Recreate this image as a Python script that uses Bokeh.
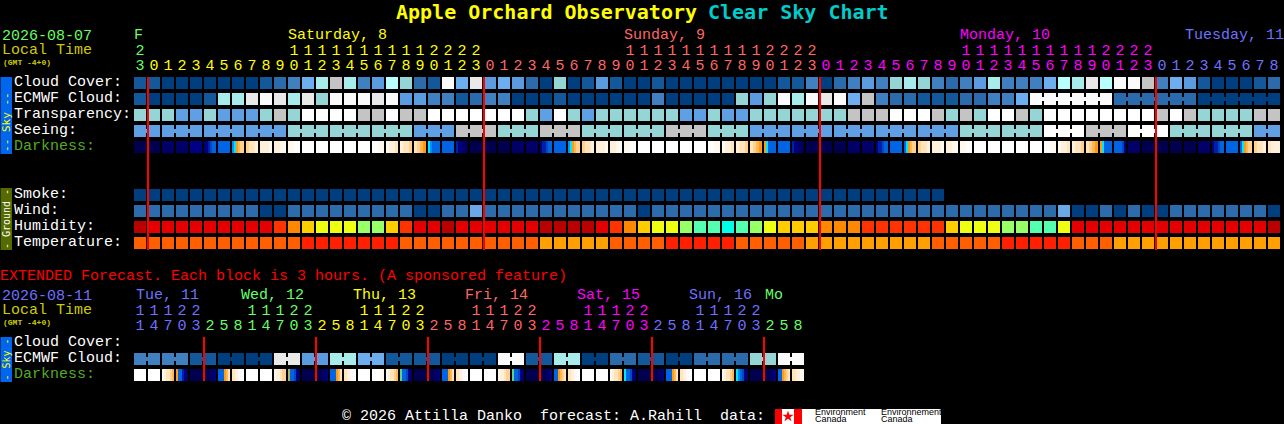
from bokeh.plotting import figure
from bokeh.models import ColumnDataSource, Range1d
from bokeh.core.properties import value
from bokeh.embed import file_html
from bokeh.resources import INLINE
from math import pi

# ---------- DATA (class numbers, one per column) ----------
CLOUD_COVER = [
    1, 1, 0, 0, 0, 0, 0, 0, 0, 1,
    2, 3, 5, 7, 9, 7, 3, 4, 8, 6,
    2, 1, 11, 5, 10, 4, 5, 4, 2, 0,
    6, 0, 1, 4, 1, 0, 0, 1, 0, 0,
    0, 0, 0, 0, 0, 0, 1, 1, 3, 0,
    2, 3, 4, 3, 6, 7, 6, 3, 2, 3,
    4, 7, 3, 3, 3, 5, 8, 7, 10, 8,
    11, 11, 9, 3, 5, 4, 1, 0, 0, 0,
    1, 2]
ECMWF_CLOUD = [
    1, 0, 0, 0, 0, 1, 7, 7, 10, 11,
    10, 7, 10, 6, 11, 11, 11, 10, 11, 4,
    4, 3, 3, 1, 2, 3, 3, 0, 0, 0,
    1, 0, 0, 0, 0, 0, 0, 3, 0, 0,
    0, 0, 0, 6, 4, 6, 11, 7, 11, 10,
    11, 5, 9, 3, 2, 2, 1, 1, 1, 2,
    2, 3, 3, 5, 11, 11, 11, 11, 11, 11,
    2, 2, 2, 2, 2, 2, 0, 0, 0, 0,
    0, 0]
TRANSPARENCY = [
    1, 1, 1, 0, 0, 1, 0, 0, 0, 1,
    2, 1, 3, 3, 3, 3, 2, 2, 3, 2,
    2, 3, 3, 3, 3, 3, 3, 3, 1, 0,
    3, 1, 0, 1, 1, 1, 1, 1, 1, 0,
    0, 1, 0, 0, 1, 1, 1, 1, 1, 1,
    1, 2, 2, 2, 3, 3, 3, 2, 1, 2,
    1, 3, 3, 2, 1, 3, 3, 3, 3, 3,
    3, 3, 3, 2, 3, 2, 1, 1, 1, 1,
    2, 2]
# one value per 3-hour seeing block; the first block has only two columns left
SEEING_BLOCKS = [0, 0, 0, 0, 1, 1, 1, 0, 2, 1, 2, 1, 1, 2, 1, 0, 0, 0, 0, 0, 1, 1, 3, 2, 3, 1, 1, 0]
# samples across each hourly cell (several samples = twilight gradient)
DARKNESS = [
    [0], [0], [1], [1], [2], [2, 2, 3, 4, 5, 5], [5], [6, 7, 8, 9, 10, 10], [10, 11, 11, 12], [12, 12, 12, 13],
    [12, 13], [13, 14], [14], [14], [14], [14], [14], [14, 13], [13, 12, 12, 11], [12, 11, 11, 10],
    [11, 10, 9, 8], [7, 6, 5, 5, 5, 5], [5], [3, 2, 2, 1, 1, 0], [0], [0], [0], [1], [1], [2, 3, 3, 4, 5, 5],
    [5], [6, 7, 8, 9, 10, 10], [10, 11, 11, 12], [12, 12, 12, 13], [12, 13], [13, 14], [14], [14], [14], [14],
    [14], [14, 13], [13, 12, 12, 11], [12, 11, 11, 10], [11, 10, 9, 8], [8, 7, 5, 5, 5, 5], [5], [3, 2, 2, 1, 1, 0], [0], [0],
    [0], [1], [1], [2, 3, 3, 4, 5, 5], [5], [5, 7, 8, 9, 10, 10], [10, 11, 11, 12], [12, 12, 12, 13], [12, 13], [13, 14],
    [14], [14], [14], [14], [14], [14, 13], [13, 12, 12, 11], [12, 11, 11, 10], [11, 10, 9, 8], [8, 7, 5, 5, 5, 5],
    [5, 5, 5, 5, 4, 2], [1], [0], [0], [0], [0], [1], [2, 3, 3, 4, 5, 5], [5], [5, 7, 8, 9, 10, 10],
    [10, 11, 11, 12], [11, 12, 12, 12]]
SMOKE = [0] * 58
WIND = [
    1, 1, 1, 1, 1, 1, 1, 1, 1, 0,
    0, 1, 1, 1, 1, 1, 1, 1, 1, 1,
    0, 0, 1, 1, 2, 1, 1, 1, 1, 1,
    1, 1, 1, 1, 1, 1, 0, 1, 1, 1,
    1, 1, 1, 1, 1, 1, 1, 1, 1, 1,
    1, 1, 1, 1, 1, 1, 1, 1, 1, 1,
    1, 1, 1, 1, 1, 1, 2, 0, 0, 1,
    0, 1, 0, 0, 1, 1, 1, 1, 1, 1,
    1, 0]
HUMIDITY = [
    0, 1, 1, 1, 1, 1, 1, 1, 1, 1,
    2, 3, 4, 5, 5, 5, 6, 6, 4, 2,
    1, 1, 0, 1, 1, 1, 1, 1, 1, 0,
    0, 0, 0, 1, 2, 3, 4, 5, 5, 6,
    7, 7, 8, 7, 6, 5, 4, 4, 4, 3,
    3, 3, 2, 2, 2, 2, 2, 2, 4, 5,
    5, 5, 6, 6, 7, 7, 5, 1, 1, 1,
    1, 1, 1, 1, 1, 1, 1, 1, 1, 1,
    1, 0]
TEMPERATURE = [
    1, 1, 1, 1, 1, 1, 1, 1, 1, 1,
    1, 1, 0, 0, 0, 0, 0, 0, 0, 1,
    1, 1, 1, 1, 1, 1, 1, 1, 1, 2,
    2, 2, 2, 2, 1, 1, 1, 1, 0, 0,
    0, 0, 0, 1, 1, 1, 1, 1, 2, 2,
    2, 2, 2, 2, 2, 2, 2, 1, 1, 1,
    1, 1, 0, 0, 0, 0, 0, 1, 1, 1,
    2, 2, 2, 2, 2, 2, 2, 2, 2, 2,
    2, 2]
HOURS = [23] + list(range(24)) * 3 + list(range(9))
DAY_OF_COLUMN = [0] + [1] * 24 + [2] * 24 + [3] * 24 + [4] * 9

# extended forecast: one value per 6-hour pair of 3-hour columns
EXT_ECMWF_PAIRS = [3, 3, 1, 0, 0, 10, 4, 7, 5, 1, 1, 0, 0, 11, 1, 7, 0, 2, 1, 0, 2, 2, 6, 11]
EXT_DARKNESS = [
    [14], [14], [13, 12, 11, 11, 10, 9], [8, 5, 5, 3, 2, 1], [0], [0, 0, 0, 1, 1, 2], [5, 5, 5, 8, 9, 11], [11, 12, 13, 14],
    [14], [14], [13, 12, 12, 11, 10, 10], [16, 5, 5, 4, 2, 1], [0], [0, 0, 0, 1, 1, 2], [5, 5, 5, 8, 9, 11], [11, 12, 13, 14],
    [14], [14, 14, 13], [13, 12, 11, 11, 10, 9], [15, 5, 5, 4, 2, 1], [0], [0, 0, 0, 1, 1, 2], [5, 5, 5, 8, 9, 11], [11, 12, 13, 14],
    [14], [14], [13, 12, 12, 11, 10, 10], [15, 5, 5, 4, 2, 1], [0], [0, 0, 0, 1, 1, 2], [5, 5, 8, 9, 10, 11], [11, 12, 13, 14],
    [14], [14], [13, 12, 11, 11, 10, 9], [7, 5, 5, 4, 2, 1], [0], [0, 0, 0, 1, 1, 2], [5, 5, 5, 8, 9, 11], [11, 12, 13, 14],
    [14], [14], [13, 12, 11, 11, 10, 9], [7, 6, 5, 4, 2, 1], [0], [0, 0, 0, 1, 1, 2], [5, 5, 8, 9, 10, 11], [11, 12, 13]]
EXT_HOURS = [11, 14, 17, 20, 23] + [2, 5, 8, 11, 14, 17, 20, 23] * 5 + [2, 5, 8]
EXT_DAY_OF_COLUMN = [4] * 5 + [5] * 8 + [1] * 8 + [2] * 8 + [3] * 8 + [4] * 8 + [5] * 3

MAIN_LABELS = ["Cloud Cover:", "ECMWF Cloud:", "Transparency:", "Seeing:", "Darkness:"]
GROUND_LABELS = ["Smoke:", "Wind:", "Humidity:", "Temperature:"]
EXT_LABELS = ["Cloud Cover:", "ECMWF Cloud:", "Darkness:"]
DAY_LABELS = [("F", 134, 0), ("Saturday, 8", 288, 1), ("Sunday, 9", 624, 2), ("Monday, 10", 960, 3), ("Tuesday, 11", 1185, 4)]
EXT_DAY_LABELS = [("Tue, 11", 136, 4), ("Wed, 12", 241, 5), ("Thu, 13", 353, 1), ("Fri, 14", 465, 2),
                  ("Sat, 15", 577, 3), ("Sun, 16", 689, 4), ("Mo", 765, 5)]

# ---------- STYLES ----------
CLOUD_COLORS = ["#003F7F", "#13589A", "#2B6BAB", "#4080C0", "#5B9BE0", "#6CAEEF", "#95D5D5", "#A8EBEB", "#B8FFFF",
                "#C4C4C4", "#E9E9E9", "#FBFBFB"]
SKY_COLORS = ["#5F9FE3", "#95D5D5", "#C4C4C4", "#FFFFFF"]
DARK_COLORS = ["#00004F", "#000068", "#000085", "#0020A8", "#0048C8", "#0064E4", "#0090F8", "#00E8FF", "#FF9A18",
               "#FFB850", "#FFD090", "#FFE4BC", "#FFF0DC", "#FFF9F0", "#FFFFFF", "#60D090", "#B0B060"]
WIND_COLORS = ["#003F7F", "#2C6CAC", "#6AA8E8"]
HUM_COLORS = ["#BA0000", "#E40000", "#FF3300", "#FF8800", "#FFCC00", "#EEFF11", "#99FF66", "#55FFB0", "#00FFE8"]
TEMP_COLORS = ["#FF2000", "#FF5F00", "#FFA000"]
DAY_COLORS = ["#66FF66", "#FFFF00", "#FF6666", "#FF00FF", "#7070FF", "#66FF66"]
MONO = "Liberation Mono"
TITLE = "DejaVu Sans Mono"
PITCH, CELL, X0 = 14, 12, 134
LABEL_GREEN = "#55AA22"
NUDGE = 0.5  # Bokeh translates its canvas by half a pixel; the ranges undo it


def cx(px):
    return (px - X0) / PITCH


# The reference fills the whole window, so the figure is pinned to the page corner.
p = figure(width=1284, height=424, output_backend="svg", toolbar_location=None,
           x_range=Range1d(cx(NUDGE), cx(1284 + NUDGE)), y_range=Range1d(424 + NUDGE, NUDGE),
           x_axis_type=None, y_axis_type=None, min_border=0,
           background_fill_color="#000000", border_fill_color="#000000", outline_line_color=None)
p.grid.visible = False
p.styles = {"position": "absolute", "left": "0px", "top": "0px", "background-color": "#000000"}


def cells(top, values, colors):
    xs = list(range(len(values)))
    src = ColumnDataSource(dict(l=xs, r=[c + CELL / PITCH for c in xs],
                                t=[top] * len(xs), b=[top + CELL] * len(xs),
                                c=[colors[v] for v in values]))
    p.quad(left="l", right="r", top="t", bottom="b", fill_color="c", line_color=None, source=src)


def bridges(top, values, colors, block_of):
    xs = [c for c in range(len(values) - 1)
          if block_of(c) is not None and block_of(c) == block_of(c + 1)]
    src = ColumnDataSource(dict(l=[c + CELL / PITCH for c in xs], r=[c + 1 for c in xs],
                                t=[top + 4] * len(xs), b=[top + 8] * len(xs),
                                c=[colors[values[c]] for c in xs]))
    p.quad(left="l", right="r", top="t", bottom="b", fill_color="c", line_color=None, source=src)


def strips(top, samples, colors):
    l, r, c = [], [], []
    for col, s in enumerate(samples):
        w = CELL / PITCH / len(s)
        for i, v in enumerate(s):
            l.append(col + i * w)
            r.append(col + (i + 1) * w)
            c.append(colors[v])
    p.quad(left=l, right=r, top=[top] * len(l), bottom=[top + CELL] * len(l),
           fill_color=c, line_color=None)


def texts(items, size, bold=False, align="left", baseline="alphabetic", angle=0, font=MONO):
    shift = 0.4 * size - 1 if baseline == "alphabetic" else 0
    src = ColumnDataSource(dict(x=[cx(i[0]) for i in items], y=[i[1] - shift for i in items],
                                t=[i[2] for i in items], c=[i[3] for i in items]))
    p.text(x="x", y="y", text="t", text_color="c", source=src, text_font=value(font),
           text_font_size=f"{size}px", text_font_style="bold" if bold else "normal",
           text_align=align, text_baseline=baseline, angle=angle)


def box(x0, x1, y0, y1, color):
    p.quad(left=[cx(x0)], right=[cx(x1)], top=[y0], bottom=[y1], fill_color=color, line_color=None)


# main rows
seeing = [SEEING_BLOCKS[0]] * 2
for v in SEEING_BLOCKS[1:]:
    seeing += [v] * 3
seeing = seeing[:82]
assert all(len(a) == 82 for a in (CLOUD_COVER, ECMWF_CLOUD, TRANSPARENCY, seeing, DARKNESS, WIND, HUMIDITY, TEMPERATURE, HOURS))

cells(77, CLOUD_COVER, CLOUD_COLORS)
cells(93, ECMWF_CLOUD, CLOUD_COLORS)
bridges(93, ECMWF_CLOUD, CLOUD_COLORS, lambda c: (c - 64) // 6 if c >= 64 else None)
cells(109, TRANSPARENCY, SKY_COLORS)
cells(125, seeing, SKY_COLORS)
bridges(125, seeing, SKY_COLORS, lambda c: (c + 1) // 3)
strips(141, DARKNESS, DARK_COLORS)
cells(189, SMOKE, WIND_COLORS)
cells(205, WIND, WIND_COLORS)
cells(221, HUMIDITY, HUM_COLORS)
cells(237, TEMPERATURE, TEMP_COLORS)

# extended rows
ext_ecmwf = [v for v in EXT_ECMWF_PAIRS for _ in range(2)]
assert len(ext_ecmwf) == 48 == len(EXT_DARKNESS) == len(EXT_HOURS)
cells(353, ext_ecmwf, CLOUD_COLORS)
bridges(353, ext_ecmwf, CLOUD_COLORS, lambda c: c // 2)
strips(369, EXT_DARKNESS, DARK_COLORS)

# midnight markers
midnights = [c for c, h in enumerate(HOURS) if h == 0]
p.quad(left=[c - 1 / PITCH for c in midnights], right=[c + 1 / PITCH for c in midnights],
       top=[77] * len(midnights), bottom=[250] * len(midnights), fill_color="#FF0000", line_color=None)
ext_marks = [c for c, h in enumerate(EXT_HOURS) if h == 2]
p.quad(left=[c - 1 / PITCH for c in ext_marks], right=[c + 1 / PITCH for c in ext_marks],
       top=[337] * len(ext_marks), bottom=[381] * len(ext_marks), fill_color="#FF0000", line_color=None)

# side strips
box(0, 12, 77, 154, "#0066EE")
box(0, 12, 188, 250, "#556B00")
box(0, 12, 337, 382, "#0066EE")
texts([(6, 115.5, "--  Sky  --", "#FFFF00")], 11, align="center", baseline="middle", angle=pi / 2, font=TITLE)
texts([(6, 219, "- Ground -", "#FFFFFF")], 10, align="center", baseline="middle", angle=pi / 2, font=TITLE)
texts([(6, 359.5, "- Sky -", "#FFFF00")], 10, align="center", baseline="middle", angle=pi / 2, font=TITLE)

# title
texts([(396, 19, "Apple Orchard Observatory", "#FFFF00"), (708, 19, "Clear Sky Chart", "#00CCCC")], 20, bold=True, font=TITLE)

# left labels
left = [(14, 87 + 16 * i, t, LABEL_GREEN if t == "Darkness:" else "#FFFFFF") for i, t in enumerate(MAIN_LABELS)]
left += [(14, 199 + 16 * i, t, "#FFFFFF") for i, t in enumerate(GROUND_LABELS)]
left += [(14, 347 + 16 * i, t, LABEL_GREEN if t == "Darkness:" else "#FFFFFF") for i, t in enumerate(EXT_LABELS)]
left += [(2, 40, "2026-08-07", "#66FF66"), (2, 55, "Local Time", "#CCCC00"),
         (2, 300, "2026-08-11", "#7070FF"), (2, 315, "Local Time", "#CCCC00"),
         (0, 281, "EXTENDED Forecast. Each block is 3 hours. (A sponsored feature)", "#FF0000")]
texts(left, 15)
texts([(3, 65, "(GMT -4+0)", "#CCCC00"), (3, 325, "(GMT -4+0)", "#CCCC00")], 8, bold=True)

# day names and hour digits
texts([(x, 40, t, DAY_COLORS[d]) for t, x, d in DAY_LABELS], 15)
texts([(x, 300, t, DAY_COLORS[d]) for t, x, d in EXT_DAY_LABELS], 15)
digits = []
for hours, days, y_tens, y_units in ((HOURS, DAY_OF_COLUMN, 55, 70), (EXT_HOURS, EXT_DAY_OF_COLUMN, 315, 330)):
    for c, h in enumerate(hours):
        px = X0 + PITCH * c + CELL / 2
        digits.append((px, y_units, str(h % 10), DAY_COLORS[days[c]]))
        if h >= 10:
            digits.append((px, y_tens, str(h // 10), DAY_COLORS[days[c]]))
texts(digits, 15, align="center")

# footer
texts([(342, 421.5, "\u00a9 2026 Attilla Danko", "#FFFFFF"), (540, 421.5, "forecast: A.Rahill", "#FFFFFF"),
       (720, 421.5, "data:", "#FFFFFF")], 15)
box(775, 941, 409, 424, "#FFFFFF")
box(775, 782, 409, 424, "#FF0000")
box(794, 802, 409, 424, "#FF0000")
p.scatter(x=[cx(788)], y=[416.5], marker="star", size=12, fill_color="#FF0000", line_color=None)
texts([(815, 415, "Environment", "#000000"), (815, 422, "Canada", "#000000"),
       (881, 415, "Environnement", "#000000"), (881, 422, "Canada", "#000000")], 9, font="Liberation Sans")

open("out.html", "w").write(file_html(p, INLINE))
